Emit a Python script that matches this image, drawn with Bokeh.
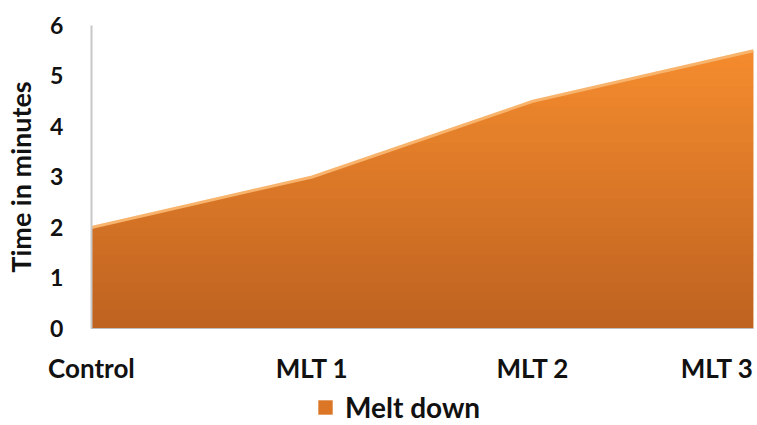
from bokeh.plotting import figure
from bokeh.models import (Range1d, FixedTicker, ColumnDataSource, LabelSet,
                          Legend, LegendItem, LinearAxis)
from bokeh.core.properties import value
from bokeh.embed import file_html
from bokeh.resources import INLINE

# ---- data ----
categories = ["Control", "MLT 1", "MLT 2", "MLT 3"]
melt_down = [2.0, 3.0, 4.5, 5.5]
y_ticks = [0, 1, 2, 3, 4, 5, 6]
label_align = ["center", "center", "center", "right"]

xs = list(range(len(categories)))
FONT = "Lato"
INK = "#111111"

# frame covers the whole canvas; axes are pinned at data 0
p = figure(width=757, height=425, output_backend="svg", toolbar_location=None,
           x_range=Range1d(-0.412, len(categories) - 1), y_range=Range1d(-1.921, 6.495),
           x_axis_location=None, y_axis_location=None,
           min_border_left=0, min_border_right=4, min_border_top=0,
           min_border_bottom=0)
p.outline_line_color = None
p.grid.visible = False
p.background_fill_color = "white"

# vertical orange gradient (decorative bands), masked above the data
top_c = (0xF5, 0x8C, 0x2E)
bot_c = (0xBE, 0x62, 0x20)
n = 30
lo_top = max(melt_down)
bands_b, bands_t, bands_c = [], [], []
for i in range(n):
    b = lo_top * i / n
    t = lo_top * (i + 1) / n + 0.01
    f = (i + 0.5) / n
    c = tuple(int(round(bot_c[k] + (top_c[k] - bot_c[k]) * f)) for k in range(3))
    bands_b.append(b); bands_t.append(t); bands_c.append("#%02x%02x%02x" % c)

area = p.varea(x=xs, y1=[0] * len(xs), y2=melt_down, fill_color="#DA7626")
p.quad(left=xs[0], right=xs[-1], bottom=bands_b, top=bands_t,
       fill_color=bands_c, line_color=None)
p.varea(x=xs, y1=melt_down, y2=[6.6] * len(xs), fill_color="white")
p.line(x=xs, y=melt_down, line_color="#F8B46C", line_width=3)

# y axis pinned at x = 0
yax = LinearAxis(fixed_location=0, bounds=(0, 6), ticker=FixedTicker(ticks=y_ticks))
yax.major_tick_out = 0
yax.major_tick_in = 0
yax.minor_tick_out = 0
yax.minor_tick_in = 0
yax.axis_line_color = "#C8C8C8"
yax.axis_line_width = 2
yax.major_label_standoff = 28
yax.major_label_text_font = FONT
yax.major_label_text_font_style = "bold"
yax.major_label_text_font_size = "23px"
yax.major_label_text_color = INK
yax.axis_label = "Time in minutes"
yax.axis_label_text_font = FONT
yax.axis_label_text_font_style = "bold"
yax.axis_label_text_font_size = "27px"
yax.axis_label_text_color = INK
yax.axis_label_standoff = 10
p.add_layout(yax, "left")

# x axis baseline pinned at y = 0
xax = LinearAxis(fixed_location=0, bounds=(xs[0], xs[-1]), ticker=FixedTicker(ticks=[]))
xax.major_label_text_font_size = "0px"
xax.major_tick_out = 0
xax.minor_tick_out = 0
xax.axis_line_color = "#BDBDBD"
xax.axis_line_width = 1
p.add_layout(xax, "below")

src = ColumnDataSource(dict(x=xs, y=[0] * len(xs), text=categories, align=label_align))
labels = LabelSet(x="x", y="y", text="text", source=src, y_offset=-40,
                  text_align="align", text_baseline="middle",
                  text_font=value(FONT), text_font_style="bold", text_font_size="26px",
                  text_color=INK)
p.add_layout(labels)

legend = Legend(items=[LegendItem(label="Melt down", renderers=[area])],
                location=(316, 1), glyph_width=18, glyph_height=18,
                label_standoff=11, padding=0, margin=0, border_line_color=None,
                background_fill_alpha=0,
                label_text_font=FONT, label_text_font_style="bold",
                label_text_font_size="28px", label_text_color=INK)
p.add_layout(legend)

open("out.html", "w").write(file_html(p, INLINE))
